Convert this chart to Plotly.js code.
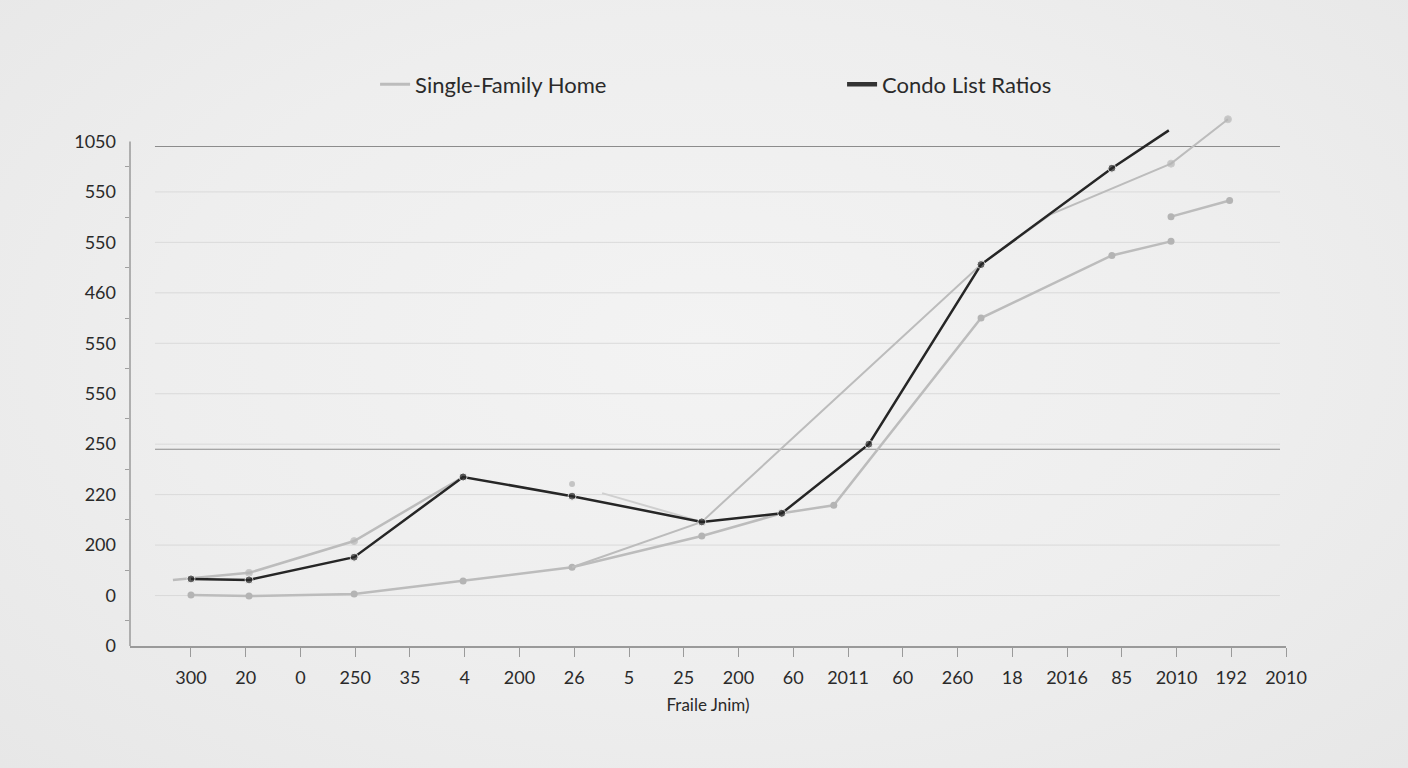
<!DOCTYPE html>
<html>
<head>
<meta charset="utf-8">
<script src="https://cdn.plot.ly/plotly-3.0.1.min.js"></script>
<style>
  html, body { margin: 0; padding: 0; }
  body { width: 1408px; height: 768px; overflow: hidden;
         background: radial-gradient(ellipse at 50% 45%, #f3f3f3 0%, #eeeeee 55%, #e7e7e7 100%); }
  #chart { width: 1408px; height: 768px; }
</style>
</head>
<body>
<div id="chart"></div>
<script>
// ---- data (x = position along the category axis, y = value) ----
const xTickLabels = ['300','20','0','250','35','4','200','26','5','25','200','60','2011','60','260','18','2016','85','2010','192','2010'];
const yTickLabels = ['0','0','200','220','250','550','550','460','550','550','1050'];
const yTickVals   = [0,100,200,300,400,500,600,700,800,900,1000];
const yMinorVals  = [50,150,250,350,450,550,650,750,850,950];

// Condo List Ratios (dark)
const condoX = [0, 1.06, 2.98, 4.97, 6.96, 9.33, 10.79, 12.38, 14.43, 16.82, 17.86];
const condoY = [133, 131, 176, 335, 297, 246, 263, 400, 756, 947, 1022];

// Single-Family Home (light) – upper early path
const sfhUpperX = [-0.33, 1.06, 2.98, 4.97];
const sfhUpperY = [131, 145, 208, 335];

// Single-Family Home – lower path
const sfhLowerX = [0, 1.06, 2.98, 4.97, 6.96, 9.33, 10.79, 11.74, 14.43, 16.82, 17.9];
const sfhLowerY = [101, 99, 103, 129, 156, 218, 263, 279, 650, 774, 802];

// Single-Family Home – diagonal path
const sfhDiagX = [6.96, 9.33, 14.43, 15.69, 17.9, 18.94];
const sfhDiagY = [156, 246, 756, 855, 956, 1044];

// Single-Family Home – fragment after the dip
const sfhFragX = [7.51, 9.33];
const sfhFragY = [303, 246];

// Single-Family Home – short late segment
const sfhLateX = [17.9, 18.97];
const sfhLateY = [851, 883];

// Single-Family Home – isolated point
const sfhDotX = [6.96];
const sfhDotY = [321];

// reference lines
const gridVals = [100,200,300,400,500,600,700,800,900];
const refVals  = [990, 390];

const LIGHT = '#bcbcbc';
const LIGHT_M = '#b4b4b4';
const DARK = '#262626';
const FONT = 'Lato, "Liberation Sans", sans-serif';

const traces = [
  { x: sfhLowerX, y: sfhLowerY, mode: 'lines+markers', showlegend: false,
    line: {color: LIGHT, width: 2.5}, marker: {color: LIGHT_M, size: 7} },
  { x: sfhUpperX, y: sfhUpperY, mode: 'lines+markers', showlegend: false,
    line: {color: LIGHT, width: 2.5}, marker: {color: LIGHT_M, size: [0,7,7,7]} },
  { x: sfhDiagX, y: sfhDiagY, mode: 'lines+markers', showlegend: false,
    line: {color: LIGHT, width: 2}, marker: {color: LIGHT_M, size: [0,0,0,0,7,7]} },
  { x: sfhFragX, y: sfhFragY, mode: 'lines', showlegend: false,
    line: {color: '#cfcfcf', width: 2} },
  { x: sfhLateX, y: sfhLateY, mode: 'lines+markers', showlegend: false,
    line: {color: LIGHT, width: 2.5}, marker: {color: LIGHT_M, size: 7} },
  { x: sfhDotX, y: sfhDotY, mode: 'markers', showlegend: false,
    marker: {color: '#c4c4c4', size: 6} },
  { x: condoX, y: condoY, mode: 'lines+markers', showlegend: false,
    line: {color: DARK, width: 2.5}, marker: {color: DARK, size: [8,8,8,8,8,8,8,8,8,8,0]} },
  // legend entries (line samples only)
  { x: [null], y: [null], mode: 'lines', name: 'Single-Family Home', line: {color: LIGHT, width: 3}, showlegend: true },
  { x: [null], y: [null], mode: 'lines', name: 'Condo List Ratios', line: {color: '#333333', width: 4.5}, showlegend: true }
];

const shapes = [];
gridVals.forEach(v => shapes.push({ type: 'line', xref: 'paper', yref: 'y', x0: 0.0216, x1: 0.9948, y0: v, y1: v,
  line: {color: '#dadada', width: 1}, layer: 'below' }));
refVals.forEach(v => shapes.push({ type: 'line', xref: 'paper', yref: 'y', x0: 0.0216, x1: 0.9948, y0: v, y1: v,
  line: {color: '#8c8c8c', width: 1.2}, layer: 'below' }));
// y axis line (only up to the top tick)
shapes.push({ type: 'line', xref: 'paper', yref: 'y', x0: 0, x1: 0, y0: 0, y1: 1000,
  line: {color: '#9a9a9a', width: 1.5}, layer: 'above' });

const layout = {
  width: 1408, height: 768,
  margin: {l: 130, r: 122, t: 90.5, b: 122},
  paper_bgcolor: 'rgba(0,0,0,0)',
  plot_bgcolor: 'rgba(0,0,0,0)',
  font: {family: FONT, color: '#2a2a2a', size: 18},
  showlegend: true,
  legend: { orientation: 'h', x: 0.212, xanchor: 'left', y: 1.0117, yanchor: 'middle',
            font: {family: FONT, size: 22, color: '#2a2a2a'},
            entrywidth: 422, entrywidthmode: 'pixels', bgcolor: 'rgba(0,0,0,0)', traceorder: 'normal' },
  xaxis: {
    range: [-1.114, 20], tickmode: 'array', tickvals: xTickLabels.map((_, i) => i), ticktext: xTickLabels,
    showgrid: false, zeroline: false, showline: true, linecolor: '#9a9a9a', linewidth: 1.5,
    ticks: 'outside', ticklen: 9, tickcolor: '#9a9a9a', tickwidth: 1,
    ticklabelstandoff: 6,
    tickfont: {family: FONT, size: 18, color: '#2a2a2a'},
    title: {text: 'Fraile Jnim)', font: {family: FONT, size: 17, color: '#2a2a2a'}, standoff: 12}
  },
  yaxis: {
    range: [0, 1100], tickmode: 'array', tickvals: yTickVals, ticktext: yTickLabels,
    showgrid: false, zeroline: false, showline: false,
    ticks: '', ticklabelstandoff: 13,
    tickfont: {family: FONT, size: 18, color: '#2a2a2a'},
    minor: {tickmode: 'array', tickvals: yMinorVals, ticks: 'outside', ticklen: 4, tickcolor: '#a0a0a0', showgrid: false}
  },
  shapes: shapes
};

Plotly.newPlot('chart', traces, layout, {displayModeBar: false, staticPlot: true});
</script>
</body>
</html>
